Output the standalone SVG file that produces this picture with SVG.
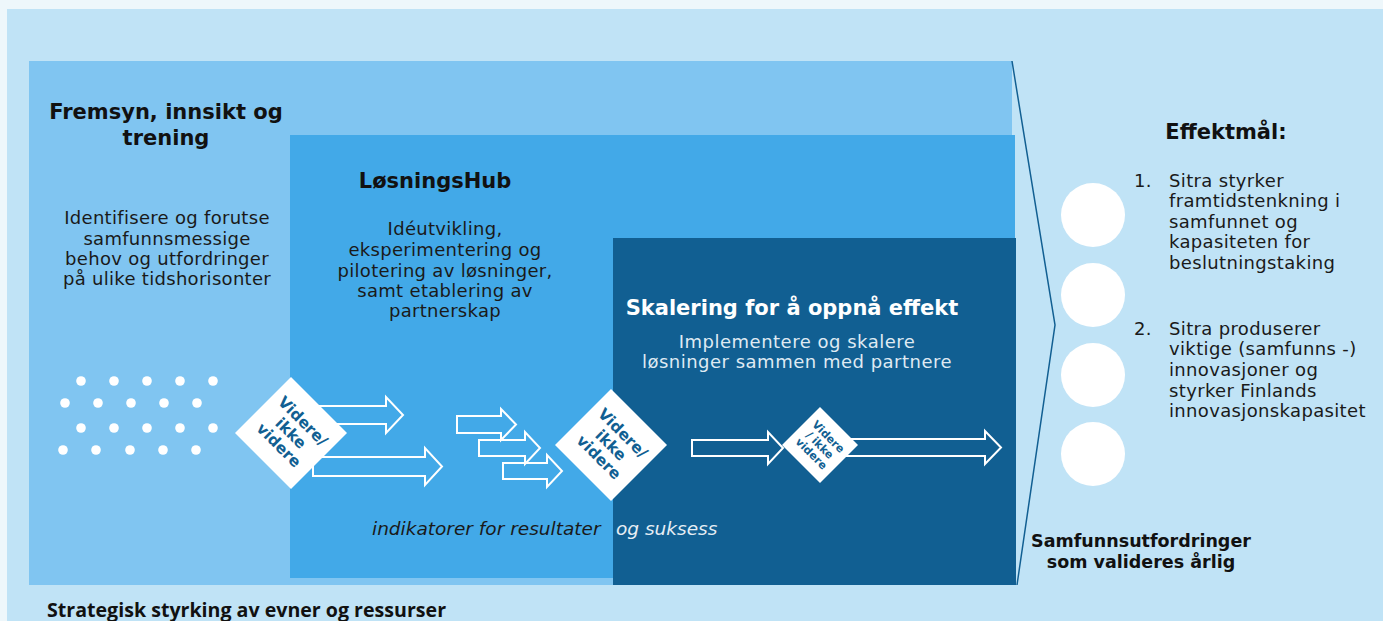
<svg xmlns="http://www.w3.org/2000/svg" width="1383" height="621" viewBox="0 0 1383 621">
  <style>
    .title { font-family: "DejaVu Sans", sans-serif; font-weight: bold; font-size: 21px; fill: #111111; text-anchor: middle; }
    .body { font-family: "DejaVu Sans", sans-serif; font-size: 18px; fill: #1a1a1a; text-anchor: middle; letter-spacing: 0.3px; }
    .body-light { font-family: "DejaVu Sans", sans-serif; font-size: 18px; fill: #dfeaf3; text-anchor: middle; letter-spacing: 0.5px; }
    .list { font-family: "DejaVu Sans", sans-serif; font-size: 18px; fill: #1a1a1a; letter-spacing: 0.35px; }
    .gate { fill: #ffffff; }
    .gate-text { font-family: "DejaVu Sans", sans-serif; font-weight: bold; fill: #115f92; text-anchor: middle; }
    .arrow { fill: none; stroke: #ffffff; stroke-width: 2; stroke-linejoin: miter; }
    .dot { fill: #ffffff; }
  </style>

  <!-- page background -->
  <rect x="0" y="0" width="1383" height="621" fill="#eef7fb"/>
  <rect x="7" y="9" width="1376" height="612" fill="#c0e3f6"/>

  <!-- stage 1: foresight -->
  <g id="stage-fremsyn">
    <rect x="29" y="61" width="983" height="524" fill="#80c5f1"/>
    <text class="title" x="166" y="119">Fremsyn, innsikt og</text>
    <text class="title" x="166" y="145">trening</text>
    <text class="body" x="167" y="224">Identifisere og forutse</text>
    <text class="body" x="167" y="245">samfunnsmessige</text>
    <text class="body" x="167" y="265">behov og utfordringer</text>
    <text class="body" x="167" y="285">på ulike tidshorisonter</text>
    <g id="ideas">
      <circle class="dot" cx="81" cy="381" r="4.8"/>
      <circle class="dot" cx="114" cy="381" r="4.8"/>
      <circle class="dot" cx="147" cy="381" r="4.8"/>
      <circle class="dot" cx="180" cy="381" r="4.8"/>
      <circle class="dot" cx="213" cy="381" r="4.8"/>
      <circle class="dot" cx="65" cy="403" r="4.8"/>
      <circle class="dot" cx="98" cy="403" r="4.8"/>
      <circle class="dot" cx="131" cy="403" r="4.8"/>
      <circle class="dot" cx="164" cy="403" r="4.8"/>
      <circle class="dot" cx="197" cy="403" r="4.8"/>
      <circle class="dot" cx="81" cy="428" r="4.8"/>
      <circle class="dot" cx="114" cy="428" r="4.8"/>
      <circle class="dot" cx="147" cy="428" r="4.8"/>
      <circle class="dot" cx="180" cy="428" r="4.8"/>
      <circle class="dot" cx="213" cy="428" r="4.8"/>
      <circle class="dot" cx="63" cy="450" r="4.8"/>
      <circle class="dot" cx="96" cy="450" r="4.8"/>
      <circle class="dot" cx="130" cy="450" r="4.8"/>
      <circle class="dot" cx="163" cy="450" r="4.8"/>
      <circle class="dot" cx="196" cy="450" r="4.8"/>
    </g>
  </g>

  <!-- stage 2: solution hub -->
  <g id="stage-hub">
    <rect x="290" y="135" width="725" height="443" fill="#42a9e8"/>
    <text class="title" x="435" y="188">LøsningsHub</text>
    <text class="body" x="445" y="235">Idéutvikling,</text>
    <text class="body" x="445" y="256">eksperimentering og</text>
    <text class="body" x="445" y="277">pilotering av løsninger,</text>
    <text class="body" x="445" y="297">samt etablering av</text>
    <text class="body" x="445" y="317">partnerskap</text>
  </g>

  <!-- stage 3: scaling -->
  <g id="stage-skalering">
    <rect x="613" y="238" width="403" height="347" fill="#115f92"/>
    <text class="title" x="792" y="315" style="fill:#ffffff">Skalering for å oppnå effekt</text>
    <text class="body-light" x="797" y="348">Implementere og skalere</text>
    <text class="body-light" x="797" y="368">løsninger sammen med partnere</text>
  </g>

  <!-- indicator caption across stages -->
  <g id="indikatorer" font-family="DejaVu Sans, sans-serif" font-style="italic" font-size="18.5">
    <text x="372" y="535" fill="#1a1a1a">indikatorer for resultater</text>
    <text x="616" y="535" fill="#e6eef5">og suksess</text>
  </g>

  <!-- flow arrows -->
  <g id="connectors">
    <path class="arrow" d="M320,406 L386,406 L386,397 L403,415 L386,433 L386,424 L320,424 Z"/>
    <path class="arrow" d="M313,457 L425,457 L425,448 L442,466.5 L425,485 L425,476 L313,476 Z"/>
    <path class="arrow" d="M457,416 L501,416 L501,409 L516,424.5 L501,440 L501,433 L457,433 Z"/>
    <path class="arrow" d="M479,440 L525,440 L525,432 L540,448 L525,464 L525,456 L479,456 Z"/>
    <path class="arrow" d="M503,463 L547,463 L547,455 L562,471 L547,487 L547,479 L503,479 Z"/>
    <path class="arrow" d="M692,440 L768,440 L768,432 L783,448 L768,464 L768,456 L692,456 Z"/>
    <path class="arrow" d="M845,439 L985,439 L985,431 L1001,447.5 L985,464 L985,456 L845,456 Z"/>
  </g>

  <!-- decision gates -->
  <g id="gate-1">
    <polygon class="gate" points="291,377 347,433 291,489 235,433"/>
    <g transform="translate(291,433) rotate(45)">
      <text class="gate-text" font-size="15.5" x="0" y="-11.5">Videre/</text>
      <text class="gate-text" font-size="15.5" x="0" y="5.5">ikke</text>
      <text class="gate-text" font-size="15.5" x="0" y="22.5">videre</text>
    </g>
  </g>
  <g id="gate-2">
    <polygon class="gate" points="611,389 667,445 611,501 555,445"/>
    <g transform="translate(611,445) rotate(45)">
      <text class="gate-text" font-size="15.5" x="0" y="-11.5">Videre/</text>
      <text class="gate-text" font-size="15.5" x="0" y="5.5">ikke</text>
      <text class="gate-text" font-size="15.5" x="0" y="22.5">videre</text>
    </g>
  </g>
  <g id="gate-3">
    <polygon class="gate" points="820,407 858,445 820,483 782,445"/>
    <g transform="translate(820,445) rotate(45)">
      <text class="gate-text" font-size="11" x="0" y="-8">Videre</text>
      <text class="gate-text" font-size="11" x="0" y="4">/ ikke</text>
      <text class="gate-text" font-size="11" x="0" y="16">videre</text>
    </g>
  </g>

  <!-- bracket towards outcomes -->
  <g id="chevron">
    <polyline points="1012,61 1055,325 1017,585" fill="none" stroke="#115f92" stroke-width="1.5"/>
  </g>

  <!-- outcome markers -->
  <g id="outcomes">
    <circle cx="1093" cy="215" r="32" fill="#ffffff"/>
    <circle cx="1093" cy="295" r="32" fill="#ffffff"/>
    <circle cx="1093" cy="375" r="32" fill="#ffffff"/>
    <circle cx="1093" cy="454" r="32" fill="#ffffff"/>
  </g>

  <!-- impact goals -->
  <g id="effektmal">
    <text class="title" x="1226" y="139">Effektmål:</text>
    <text class="list" x="1134" y="187">1.</text>
    <text class="list" x="1169" y="187">Sitra styrker</text>
    <text class="list" x="1169" y="207">framtidstenkning i</text>
    <text class="list" x="1169" y="228">samfunnet og</text>
    <text class="list" x="1169" y="248">kapasiteten for</text>
    <text class="list" x="1169" y="269">beslutningstaking</text>
    <text class="list" x="1134" y="335">2.</text>
    <text class="list" x="1169" y="335">Sitra produserer</text>
    <text class="list" x="1169" y="355">viktige (samfunns -)</text>
    <text class="list" x="1169" y="376">innovasjoner og</text>
    <text class="list" x="1169" y="397">styrker Finlands</text>
    <text class="list" x="1169" y="417">innovasjonskapasitet</text>
  </g>

  <g id="samfunnsutfordringer">
    <text class="title" style="font-size:17.5px" x="1141" y="547">Samfunnsutfordringer</text>
    <text class="title" style="font-size:17.5px" x="1141" y="568">som valideres årlig</text>
  </g>

  <g id="strategisk">
    <text x="47" y="617" font-family="Open Sans, sans-serif" font-weight="bold" font-size="19.6" fill="#111111">Strategisk styrking av evner og ressurser</text>
  </g>
</svg>
